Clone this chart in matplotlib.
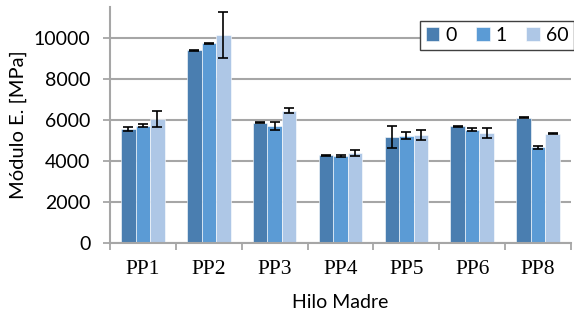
import matplotlib
matplotlib.use("Agg")
import matplotlib.pyplot as plt
import numpy as np

categories = ["PP1", "PP2", "PP3", "PP4", "PP5", "PP6", "PP8"]
series_names = ["0", "1", "60"]

# modulus values [MPa] and error (std) per series
vals_0 = [5550, 9385, 5860, 4280, 5175, 5680, 6100]
vals_1 = [5710, 9730, 5710, 4230, 5225, 5515, 4670]
vals_60 = [6040, 10135, 6445, 4395, 5255, 5355, 5320]
err_0 = [80, 25, 25, 25, 550, 25, 25]
err_1 = [75, 25, 180, 40, 170, 65, 80]
err_60 = [370, 1115, 115, 140, 230, 250, 25]

colors = ["#4a7eb0", "#5b9bd5", "#aec7e6"]

plt.rcParams["font.family"] = ["Lato", "DejaVu Sans"]

fig = plt.figure(figsize=(5.74, 3.2), dpi=100)
ax = fig.add_axes([110 / 574, 1 - 243 / 320, 461 / 574, 236 / 320])

x = np.arange(len(categories))
w = 0.22
data = [(vals_0, err_0), (vals_1, err_1), (vals_60, err_60)]
for i, (v, e) in enumerate(data):
    ax.bar(x + (i - 1) * w, v, width=w, color=colors[i], edgecolor="white",
           linewidth=0.4, label=series_names[i], zorder=2,
           yerr=e, error_kw=dict(ecolor="black", elinewidth=1.2, capsize=3.8,
                                 capthick=1.2, zorder=3))

ax.set_xlim(-0.5, len(categories) - 0.5)
ax.set_ylim(0, 11500)
ax.set_yticks([0, 2000, 4000, 6000, 8000, 10000])
ax.yaxis.grid(True, color="#a6a6a6", linewidth=1.5, zorder=0)
ax.set_axisbelow(True)

# category boundaries as major ticks, names on minor ticks
ax.set_xticks(np.arange(-0.5, len(categories), 1.0), minor=False)
ax.set_xticklabels([])
ax.set_xticks(x, minor=True)
ax.set_xticklabels(categories, minor=True, family="Liberation Serif", fontsize=15.5)
ax.tick_params(axis="x", which="major", length=5, width=1.3, color="#a6a6a6")
ax.tick_params(axis="x", which="minor", length=0, pad=12)
ax.tick_params(axis="y", length=5, width=1.3, color="#a6a6a6", labelsize=14, pad=9)

for s in ["top", "right"]:
    ax.spines[s].set_visible(False)
for s in ["left", "bottom"]:
    ax.spines[s].set_color("#a6a6a6")
    ax.spines[s].set_linewidth(1.5)

ax.set_ylabel("Módulo E. [MPa]", fontsize=14.5, labelpad=5)
ax.set_xlabel("Hilo Madre", fontsize=14, labelpad=11)

leg = ax.legend(loc="upper right", bbox_to_anchor=(1.0, 1 - 21 / 320),
                bbox_transform=fig.transFigure, ncol=3, fontsize=14,
                frameon=True, fancybox=False, borderaxespad=0,
                handlelength=0.7, handleheight=0.7, handletextpad=0.3,
                columnspacing=1.0, borderpad=0.3)
leg.get_frame().set_edgecolor("#404040")
leg.get_frame().set_linewidth(1.0)
leg.get_frame().set_alpha(1)

fig.savefig("out.png", dpi=100)
